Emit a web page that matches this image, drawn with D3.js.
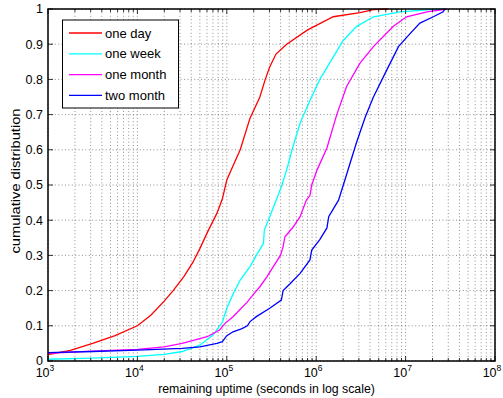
<!DOCTYPE html>
<html>
<head>
<meta charset="utf-8">
<script src="https://cdn.jsdelivr.net/npm/d3@7"></script>
<style>
  body { margin: 0; background: #fff; }
  text { font-family: "Liberation Sans", Arial, Helvetica, sans-serif; fill: #000; }
</style>
</head>
<body>
<script>
// series: [log10(seconds), cumulative fraction]
var oneDay = [[3.0,0.018],[3.25,0.03],[3.5,0.05],[3.75,0.072],[4.0,0.10],[4.15,0.13],[4.3,0.17],
  [4.4,0.2],[4.52,0.24],[4.62,0.28],[4.7,0.32],[4.78,0.364],[4.89,0.42],[4.95,0.46],[5.0,0.514],
  [5.07,0.555],[5.15,0.6],[5.26,0.69],[5.37,0.75],[5.43,0.8],[5.48,0.835],[5.55,0.872],[5.67,0.9],
  [5.9,0.94],[6.19,0.978],[6.49,0.99],[6.64,0.998],[6.8,1.0]];
var oneWeek = [[3.0,0.005],[3.5,0.008],[4.0,0.013],[4.3,0.019],[4.5,0.027],[4.7,0.045],[4.85,0.075],
  [4.95,0.11],[5.0,0.15],[5.07,0.19],[5.15,0.23],[5.26,0.268],[5.33,0.3],[5.41,0.334],[5.42,0.372],
  [5.48,0.41],[5.55,0.455],[5.61,0.495],[5.67,0.543],[5.73,0.6],[5.82,0.676],[5.93,0.74],[6.04,0.8],
  [6.15,0.846],[6.3,0.91],[6.45,0.95],[6.64,0.978],[6.94,0.992],[7.31,0.999],[7.45,1.0]];
var oneMonth = [[3.0,0.022],[3.5,0.028],[4.0,0.033],[4.3,0.04],[4.5,0.05],[4.78,0.069],[4.92,0.088],
  [4.98,0.107],[5.07,0.126],[5.23,0.168],[5.3,0.19],[5.37,0.211],[5.45,0.24],[5.52,0.268],[5.6,0.3],
  [5.63,0.325],[5.65,0.353],[5.74,0.38],[5.82,0.41],[5.89,0.457],[5.93,0.47],[5.95,0.5],[6.01,0.543],
  [6.12,0.605],[6.23,0.7],[6.34,0.78],[6.49,0.846],[6.64,0.893],[6.86,0.95],[7.01,0.978],[7.24,0.992],[7.46,1.0]];
var twoMonth = [[3.0,0.024],[3.5,0.027],[4.0,0.031],[4.5,0.036],[4.7,0.04],[4.89,0.05],[4.95,0.055],
  [5.0,0.072],[5.07,0.083],[5.17,0.092],[5.23,0.1],[5.26,0.112],[5.33,0.126],[5.48,0.15],[5.61,0.173],
  [5.63,0.2],[5.71,0.22],[5.82,0.249],[5.93,0.287],[5.95,0.315],[6.04,0.345],[6.12,0.378],[6.14,0.41],
  [6.25,0.457],[6.34,0.53],[6.45,0.62],[6.55,0.694],[6.64,0.75],[6.79,0.827],[6.92,0.893],[7.05,0.93],
  [7.16,0.96],[7.31,0.978],[7.42,0.992],[7.44,1.0]];

var seriesNames = ["one day", "one week", "one month", "two month"];
var seriesColors = ["#ff0000", "#00ffff", "#ff00ff", "#0000ff"];
var xTickExps = [3, 4, 5, 6, 7, 8];
var yTicks = [0, 0.1, 0.2, 0.3, 0.4, 0.5, 0.6, 0.7, 0.8, 0.9, 1];

var W = 503, H = 398;
var pLeft = 48, pRight = 495, pTop = 9, pBottom = 361;

var svg = d3.select("body").append("svg")
  .attr("width", W).attr("height", H);

var x = d3.scaleLog().domain([1e3, 1e8]).range([pLeft, pRight]);
var y = d3.scaleLinear().domain([0, 1]).range([pBottom, pTop]);

// minor ticks of the log axis (2..9 of every decade)
var minor = [];
xTickExps.slice(0, -1).forEach(function(e) {
  for (var k = 2; k <= 9; k++) minor.push(k * Math.pow(10, e));
});
var major = xTickExps.map(function(e) { return Math.pow(10, e); });

// grid, dotted
var grid = svg.append("g").attr("stroke", "#444").attr("stroke-width", 0.6)
  .attr("stroke-dasharray", "1,2.4");
grid.selectAll(".gx").data(major.concat(minor)).enter().append("line")
  .attr("x1", d => x(d)).attr("x2", d => x(d)).attr("y1", pTop).attr("y2", pBottom);
grid.selectAll(".gy").data(yTicks).enter().append("line")
  .attr("x1", pLeft).attr("x2", pRight).attr("y1", d => y(d)).attr("y2", d => y(d));

// curves
var line = d3.line().x(d => x(Math.pow(10, d[0]))).y(d => y(d[1]));
var allSeries = [oneDay, oneWeek, oneMonth, twoMonth];
svg.append("g").selectAll("path").data(allSeries).enter().append("path")
  .attr("d", line)
  .attr("fill", "none")
  .attr("stroke", (d, i) => seriesColors[i])
  .attr("stroke-width", 1.3);

// ticks pointing inward on all four sides
var ticks = svg.append("g").attr("stroke", "#000").attr("stroke-width", 0.8);
major.forEach(function(v) {
  ticks.append("line").attr("x1", x(v)).attr("x2", x(v)).attr("y1", pBottom).attr("y2", pBottom - 5);
  ticks.append("line").attr("x1", x(v)).attr("x2", x(v)).attr("y1", pTop).attr("y2", pTop + 5);
});
minor.forEach(function(v) {
  ticks.append("line").attr("x1", x(v)).attr("x2", x(v)).attr("y1", pBottom).attr("y2", pBottom - 3);
  ticks.append("line").attr("x1", x(v)).attr("x2", x(v)).attr("y1", pTop).attr("y2", pTop + 3);
});
yTicks.forEach(function(v) {
  ticks.append("line").attr("x1", pLeft).attr("x2", pLeft + 5).attr("y1", y(v)).attr("y2", y(v));
  ticks.append("line").attr("x1", pRight).attr("x2", pRight - 5).attr("y1", y(v)).attr("y2", y(v));
});

// frame
svg.append("rect").attr("x", pLeft).attr("y", pTop)
  .attr("width", pRight - pLeft).attr("height", pBottom - pTop)
  .attr("fill", "none").attr("stroke", "#000").attr("stroke-width", 1.5);

// y tick labels
svg.append("g").selectAll("text").data(yTicks).enter().append("text")
  .attr("x", pLeft - 5).attr("y", d => y(d) + 4.3)
  .attr("text-anchor", "end").attr("font-size", 12.5)
  .text(d => d3.format("~g")(d));

// x tick labels: 10 with superscript exponent
var xl = svg.append("g").selectAll("text").data(xTickExps).enter().append("text")
  .attr("x", d => x(Math.pow(10, d)) - 3).attr("y", 377)
  .attr("text-anchor", "middle").attr("font-size", 12.5);
xl.append("tspan").text("10");
xl.append("tspan").attr("dy", -6).attr("font-size", 8.5).text(d => d);

// axis titles
svg.append("text").attr("x", 266.5).attr("y", 393)
  .attr("text-anchor", "middle").attr("font-size", 12.3)
  .text("remaining uptime (seconds in log scale)");
svg.append("text")
  .attr("transform", "translate(19.5,181) rotate(-90)")
  .attr("text-anchor", "middle").attr("font-size", 12.5)
  .attr("textLength", 145).attr("lengthAdjust", "spacingAndGlyphs")
  .text("cumulative distribution");

// legend
var lg = svg.append("g");
lg.append("rect").attr("x", 62.5).attr("y", 20).attr("width", 116).attr("height", 88)
  .attr("fill", "#fff").attr("stroke", "#000").attr("stroke-width", 1);
var rows = lg.selectAll(".row").data(seriesNames).enter().append("g")
  .attr("transform", (d, i) => "translate(0," + (33 + i * 20.8) + ")");
rows.append("line").attr("x1", 69).attr("x2", 102).attr("y1", 0).attr("y2", 0)
  .attr("stroke", (d, i) => seriesColors[i]).attr("stroke-width", 1.3);
rows.append("text").attr("x", 105).attr("y", 4.6).attr("font-size", 13).text(d => d);
</script>
</body>
</html>
